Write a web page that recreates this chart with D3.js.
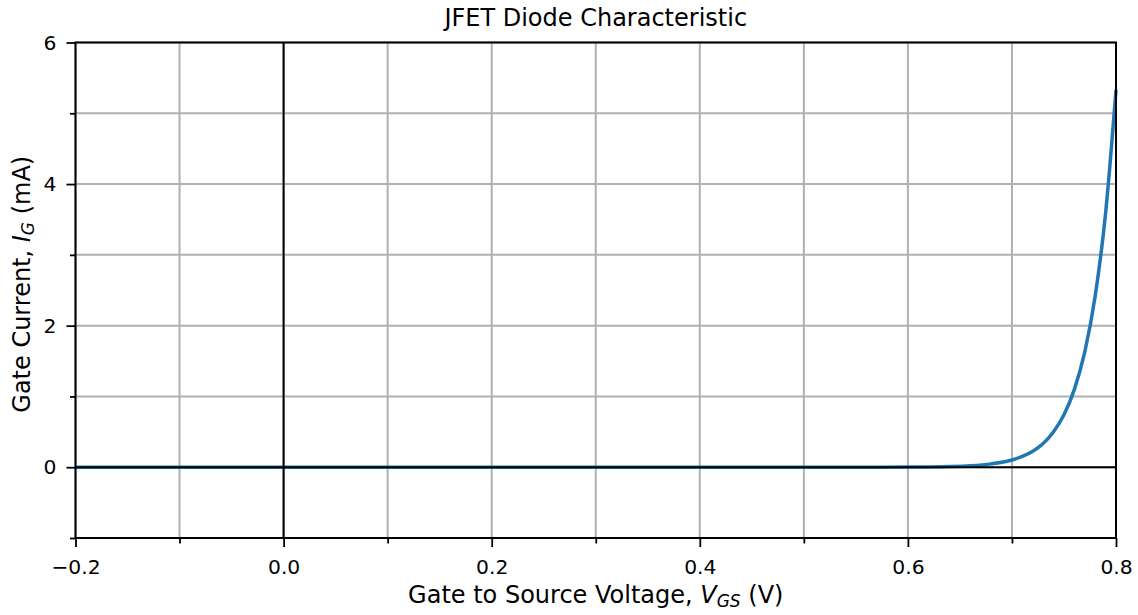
<!DOCTYPE html>
<html>
<head>
<meta charset="utf-8">
<script src="https://cdn.jsdelivr.net/npm/d3@7"></script>
<style>
  body { margin: 0; background: #fff; }
  svg { display: block; font-family: "DejaVu Sans", sans-serif; }
</style>
</head>
<body>
<svg id="chart" width="1138" height="615"></svg>
<script>
// Gate-to-source voltage (V)
const vgs = [-0.2, 0.0, 0.2, 0.4, 0.5, 0.55, 0.6, 0.62, 0.64, 0.66, 0.68, 0.70, 0.71, 0.72, 0.73, 0.74, 0.75, 0.76, 0.77, 0.78, 0.79, 0.80];
// Gate current (mA)
const ig  = [0, 0, 0, 0, 0.0003, 0.0009, 0.002, 0.0044, 0.0096, 0.021, 0.047, 0.102, 0.152, 0.225, 0.334, 0.50, 0.74, 1.10, 1.63, 2.42, 3.59, 5.33];

const xMajorTicks = [-0.2, 0.0, 0.2, 0.4, 0.6, 0.8];
const xMinorTicks = [-0.1, 0.1, 0.3, 0.5, 0.7];
const yMajorTicks = [0, 2, 4, 6];
const yMinorTicks = [-1, 1, 3, 5];
const xDomain = [-0.2, 0.8];
const yDomain = [-1, 6];

const titleText = "JFET Diode Characteristic";

const svg = d3.select("#chart");
const m = { left: 75.5, right: 1116, top: 42.5, bottom: 538 };
const x = d3.scaleLinear().domain(xDomain).range([m.left, m.right]);
const y = d3.scaleLinear().domain(yDomain).range([m.bottom, m.top]);

const gridColor = "#b0b0b0";
const allX = xMajorTicks.concat(xMinorTicks);
const allY = yMajorTicks.concat(yMinorTicks);

// Grid
svg.append("g").selectAll("line").data(allX).join("line")
  .attr("x1", d => x(d)).attr("x2", d => x(d))
  .attr("y1", m.top).attr("y2", m.bottom)
  .attr("stroke", gridColor).attr("stroke-width", 2);
svg.append("g").selectAll("line").data(allY).join("line")
  .attr("y1", d => y(d)).attr("y2", d => y(d))
  .attr("x1", m.left).attr("x2", m.right)
  .attr("stroke", gridColor).attr("stroke-width", 2);

// Curve
const data = vgs.map((v, i) => [v, ig[i]]);
const line = d3.line().x(d => x(d[0])).y(d => y(d[1])).curve(d3.curveMonotoneX);
svg.append("path").datum(data)
  .attr("d", line)
  .attr("fill", "none")
  .attr("stroke", "#1f77b4")
  .attr("stroke-width", 3.5)
  .attr("stroke-linejoin", "round");

// Zero lines
svg.append("line").attr("x1", m.left).attr("x2", m.right)
  .attr("y1", y(0)).attr("y2", y(0))
  .attr("stroke", "#000").attr("stroke-width", 2);
svg.append("line").attr("x1", x(0)).attr("x2", x(0))
  .attr("y1", m.top).attr("y2", m.bottom)
  .attr("stroke", "#000").attr("stroke-width", 2);

// Axes
const fmtX = d => d3.format(".1f")(d).replace("-", "\u2212");
const xAxis = d3.axisBottom(x).tickValues(xMajorTicks).tickFormat(fmtX).tickSize(9).tickPadding(13);
const xAxisMinor = d3.axisBottom(x).tickValues(xMinorTicks).tickFormat("").tickSize(5.5);
const yAxis = d3.axisLeft(y).tickValues(yMajorTicks).tickFormat(d3.format("d")).tickSize(9).tickPadding(10);
const yAxisMinor = d3.axisLeft(y).tickValues(yMinorTicks).tickFormat("").tickSize(5.5);

function styleAxis(g) {
  g.select(".domain").remove();
  g.selectAll("line").attr("stroke", "#000").attr("stroke-width", 1.8);
  g.selectAll("text").attr("fill", "#000").attr("font-size", 20.3).attr("font-family", "DejaVu Sans, sans-serif");
}
svg.append("g").attr("transform", `translate(0,${m.bottom})`).call(xAxis).call(styleAxis);
svg.append("g").attr("transform", `translate(0,${m.bottom})`).call(xAxisMinor).call(styleAxis);
svg.append("g").attr("transform", `translate(${m.left},0)`).call(yAxis).call(styleAxis);
svg.append("g").attr("transform", `translate(${m.left},0)`).call(yAxisMinor).call(styleAxis);

// Frame
svg.append("rect").attr("x", m.left).attr("y", m.top)
  .attr("width", m.right - m.left).attr("height", m.bottom - m.top)
  .attr("fill", "none").attr("stroke", "#000").attr("stroke-width", 2);

// Title
svg.append("text").attr("x", (m.left + m.right) / 2).attr("y", 26)
  .attr("text-anchor", "middle").attr("font-size", 24).attr("fill", "#000")
  .text(titleText);

// X label
const xl = svg.append("text").attr("x", (m.left + m.right) / 2).attr("y", 603)
  .attr("text-anchor", "middle").attr("font-size", 24).attr("fill", "#000");
xl.append("tspan").text("Gate to Source Voltage, ");
xl.append("tspan").attr("font-style", "italic").text("V");
xl.append("tspan").attr("font-style", "italic").attr("font-size", 17).attr("dy", 4).text("GS");
xl.append("tspan").attr("dy", -4).text(" (V)");

// Y label
const yl = svg.append("text")
  .attr("transform", `translate(30,${(m.top + m.bottom) / 2 - 6}) rotate(-90)`)
  .attr("text-anchor", "middle").attr("font-size", 24).attr("fill", "#000");
yl.append("tspan").text("Gate Current, ");
yl.append("tspan").attr("font-style", "italic").text("I");
yl.append("tspan").attr("font-style", "italic").attr("font-size", 17).attr("dy", 4).text("G");
yl.append("tspan").attr("dy", -4).text(" (mA)");
</script>
</body>
</html>
